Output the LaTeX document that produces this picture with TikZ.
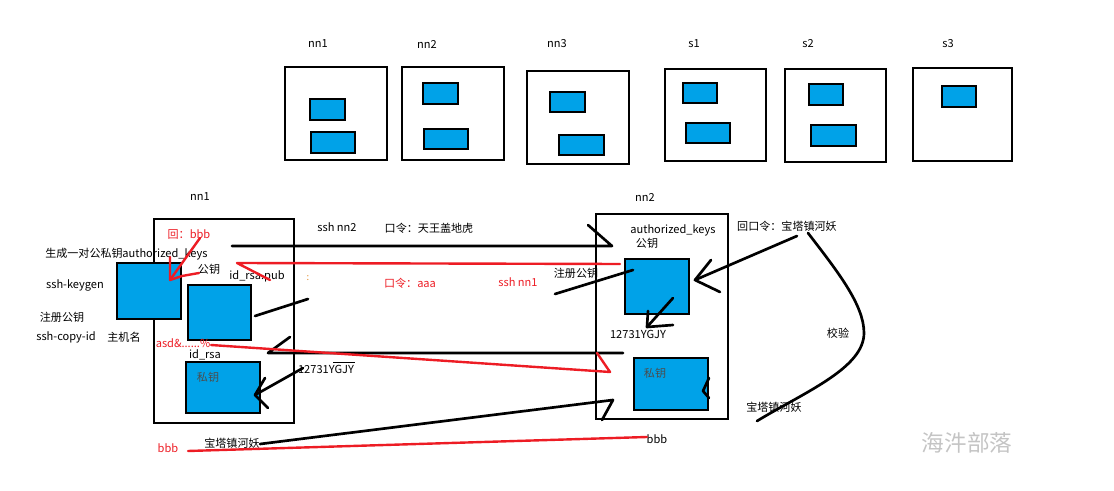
\documentclass[tikz,border=0pt]{standalone}
\usepackage{fontspec}
\setmainfont{Noto Sans CJK SC}
\usetikzlibrary{fit}
\definecolor{pblue}{HTML}{00A2E8}
\definecolor{pred}{HTML}{ED1C24}
\definecolor{wm}{HTML}{C4C4C4}
\definecolor{porange}{HTML}{E08A2A}
\begin{document}
\begin{tikzpicture}[x=0.75pt,y=-0.75pt,
 bigbox/.style={draw=black,line width=2pt,inner sep=0pt,fill=white},
 keybox/.style={draw=black,line width=2pt,inner sep=0pt,fill=pblue},
 lbl/.style={font=\fontsize{8.3}{10}\selectfont,inner sep=0pt},
 rlbl/.style={lbl,text=pred},
 ln/.style={line width=2pt,black,line join=round,line cap=round},
 rln/.style={line width=1.8pt,pred,line join=round,line cap=round},
]
\useasboundingbox (0,0) rectangle (1114,491);

% ---------- top row ----------
\node[lbl] (t1l) at (318,44) {nn1};
\node[bigbox,fit={(285,67)(387,160)}] (t1) {};
\node[keybox,fit={(310,99)(345,120)}] (t1a) {};
\node[keybox,fit={(311,132)(355,153)}] (t1b) {};

\node[lbl] (t2l) at (427,44) {nn2};
\node[bigbox,fit={(402,67)(504,160)}] (t2) {};
\node[keybox,fit={(423,83)(458,104)}] (t2a) {};
\node[keybox,fit={(424,129)(468,149)}] (t2b) {};

\node[lbl] (t3l) at (557,44) {nn3};
\node[bigbox,fit={(527,71)(629,164)}] (t3) {};
\node[keybox,fit={(550,92)(585,112)}] (t3a) {};
\node[keybox,fit={(559,135)(604,155)}] (t3b) {};

\node[lbl] (t4l) at (694,44) {s1};
\node[bigbox,fit={(665,69)(766,161)}] (t4) {};
\node[keybox,fit={(683,83)(717,103)}] (t4a) {};
\node[keybox,fit={(686,123)(730,143)}] (t4b) {};

\node[lbl] (t5l) at (808,44) {s2};
\node[bigbox,fit={(785,69)(886,162)}] (t5) {};
\node[keybox,fit={(809,84)(843,105)}] (t5a) {};
\node[keybox,fit={(811,125)(856,146)}] (t5b) {};

\node[lbl] (t6l) at (948,44) {s3};
\node[bigbox,fit={(913,68)(1012,161)}] (t6) {};
\node[keybox,fit={(942,86)(976,107)}] (t6a) {};

% ---------- nn1 ----------
\node[lbl] (n1l) at (200,197) {nn1};
\node[bigbox,fit={(154,219)(294,423)}] (n1) {};
\node[keybox,fit={(117,263)(181,319)}] (ak1) {};
\node[keybox,fit={(188,285)(251,340)}] (pub1) {};
\node[keybox,fit={(186,362)(260,413)}] (pri1) {};
\node[lbl,text=black!70] (pri1t) at (208,377) {私钥};

% ---------- nn2 ----------
\node[lbl] (n2l) at (645,197) {nn2};
\node[bigbox,fit={(596,214)(728,419)}] (n2) {};
\node[keybox,fit={(625,259)(689,314)}] (ak2) {};
\node[keybox,fit={(634,358)(708,410)}] (pri2) {};
\node[lbl,text=black!70] (pri2t) at (655,373) {私钥};

% ---------- texts ----------
\node[lbl] (g1) at (84,253) {生成一对公私钥};
\node[lbl] (ak1t) at (165,254) {authorized\_keys};
\node[lbl] (gk1) at (209,269) {公钥};
\node[lbl] (pub1t) at (257,276) {id\_rsa.pub};
\node[lbl] (kg) at (75,285) {ssh-keygen};
\node[lbl] (zc1) at (62,317) {注册公钥};
\node[lbl] (sci) at (66,337) {ssh-copy-id};
\node[lbl] (zjm) at (124,337) {主机名};
\node[rlbl] (asd) at (183,343) {asd\&......\%};
\node[lbl] (idrsa) at (205,355) {id\_rsa};
\node[rlbl] (hui) at (189,235) {回：bbb};
\node[lbl] (code1) at (326,369) {12731YGJY};
\node[lbl] (sshnn2) at (337,227) {ssh nn2};
\node[lbl] (kl1) at (429,228) {口令：天王盖地虎};
\node[rlbl] (kl2) at (410,283) {口令：aaa};
\node[rlbl] (sshnn1) at (518,282) {ssh nn1};
\node[lbl] (zc2) at (576,273) {注册公钥};
\node[lbl] (ak2t) at (673,230) {authorized\_keys};
\node[lbl] (gk2) at (647,243) {公钥};
\node[lbl] (code2) at (638,334) {12731YGJY};
\node[lbl] (hkl) at (787,226) {回口令：宝塔镇河妖};
\node[lbl] (jy) at (838,333) {校验};
\node[lbl] (btz2) at (774,407) {宝塔镇河妖};
\node[lbl] (btz1) at (232,443) {宝塔镇河妖};
\node[rlbl] (bbbr) at (168,448) {bbb};
\node[lbl] (bbbk) at (657,439) {bbb};
\node[lbl,text=porange,font=\fontsize{7}{8}\selectfont] (dots) at (308,278) {:};
\node[text=wm,inner sep=0pt,font=\fontsize{17}{20}\selectfont] (wmk) at (967,443) {海汼部落};

% ---------- coordinates ----------
\coordinate (a0) at (232,246); \coordinate (a1) at (612,246); \coordinate (a2) at (588,225);
\coordinate (b0) at (620,264); \coordinate (b1) at (237,263); \coordinate (b2) at (270,280);
\coordinate (c0) at (200,238); \coordinate (c1) at (170,280); \coordinate (c2) at (170,257);
\coordinate (c3) at (182,276); \coordinate (c4) at (199,273);
\coordinate (d0) at (255,316); \coordinate (d1) at (308,299);
\coordinate (e0) at (555,294); \coordinate (e1) at (633,270);
\coordinate (f0) at (673,298); \coordinate (f1) at (647,327); \coordinate (f2) at (648,311); \coordinate (f3) at (673,325);
\coordinate (g0) at (797,236); \coordinate (g1p) at (695,280); \coordinate (g2) at (711,260); \coordinate (g3) at (720,292);
\coordinate (h0) at (808,233); \coordinate (h1) at (864,333); \coordinate (h2) at (757,421);
\coordinate (i0) at (623,353); \coordinate (i1) at (268,353); \coordinate (i2) at (290,337);
\coordinate (j0) at (211,345); \coordinate (j1) at (610,372); \coordinate (j2) at (597,353);
\coordinate (k0) at (303,368); \coordinate (k1) at (255,395); \coordinate (k2) at (265,378); \coordinate (k3) at (268,408);
\coordinate (l0) at (260,444); \coordinate (l1) at (613,400); \coordinate (l2) at (602,420);
\coordinate (m0) at (188,451); \coordinate (m1) at (647,437);
\coordinate (n0) at (709,378); \coordinate (n1p) at (703,391); \coordinate (n2p) at (709,398);
\coordinate (o0) at (333,362); \coordinate (o1) at (355,362);

% ---------- connectors ----------
\draw[ln] (a0) -- (a1) -- (a2);
\draw[rln] (b0) -- (b1) -- (b2);
\draw[rln] (c0) -- (c1);
\draw[rln] (c2) -- (c1) -- (c3) -- (c4);
\draw[ln] (d0) -- (d1);
\draw[ln] (e0) -- (e1);
\draw[ln] (f0) -- (f1);
\draw[ln] (f2) -- (f1) -- (f3);
\draw[ln] (g0) -- (g1p);
\draw[ln] (g2) -- (g1p) -- (g3);
\draw[ln] (h0) .. controls (838,272) and (864,305) .. (h1) .. controls (864,368) and (805,392) .. (h2);
\draw[ln] (i0) -- (i1) -- (i2);
\draw[rln] (j0) -- (j1) -- (j2);
\draw[ln] (k0) -- (k1);
\draw[ln] (k2) -- (k1) -- (k3);
\draw[ln] (l0) -- (l1) -- (l2);
\draw[rln] (m0) -- (m1);
\draw[ln] (n0) -- (n1p) -- (n2p);
\draw[line width=0.6pt] (o0) -- (o1);
\end{tikzpicture}
\end{document}
